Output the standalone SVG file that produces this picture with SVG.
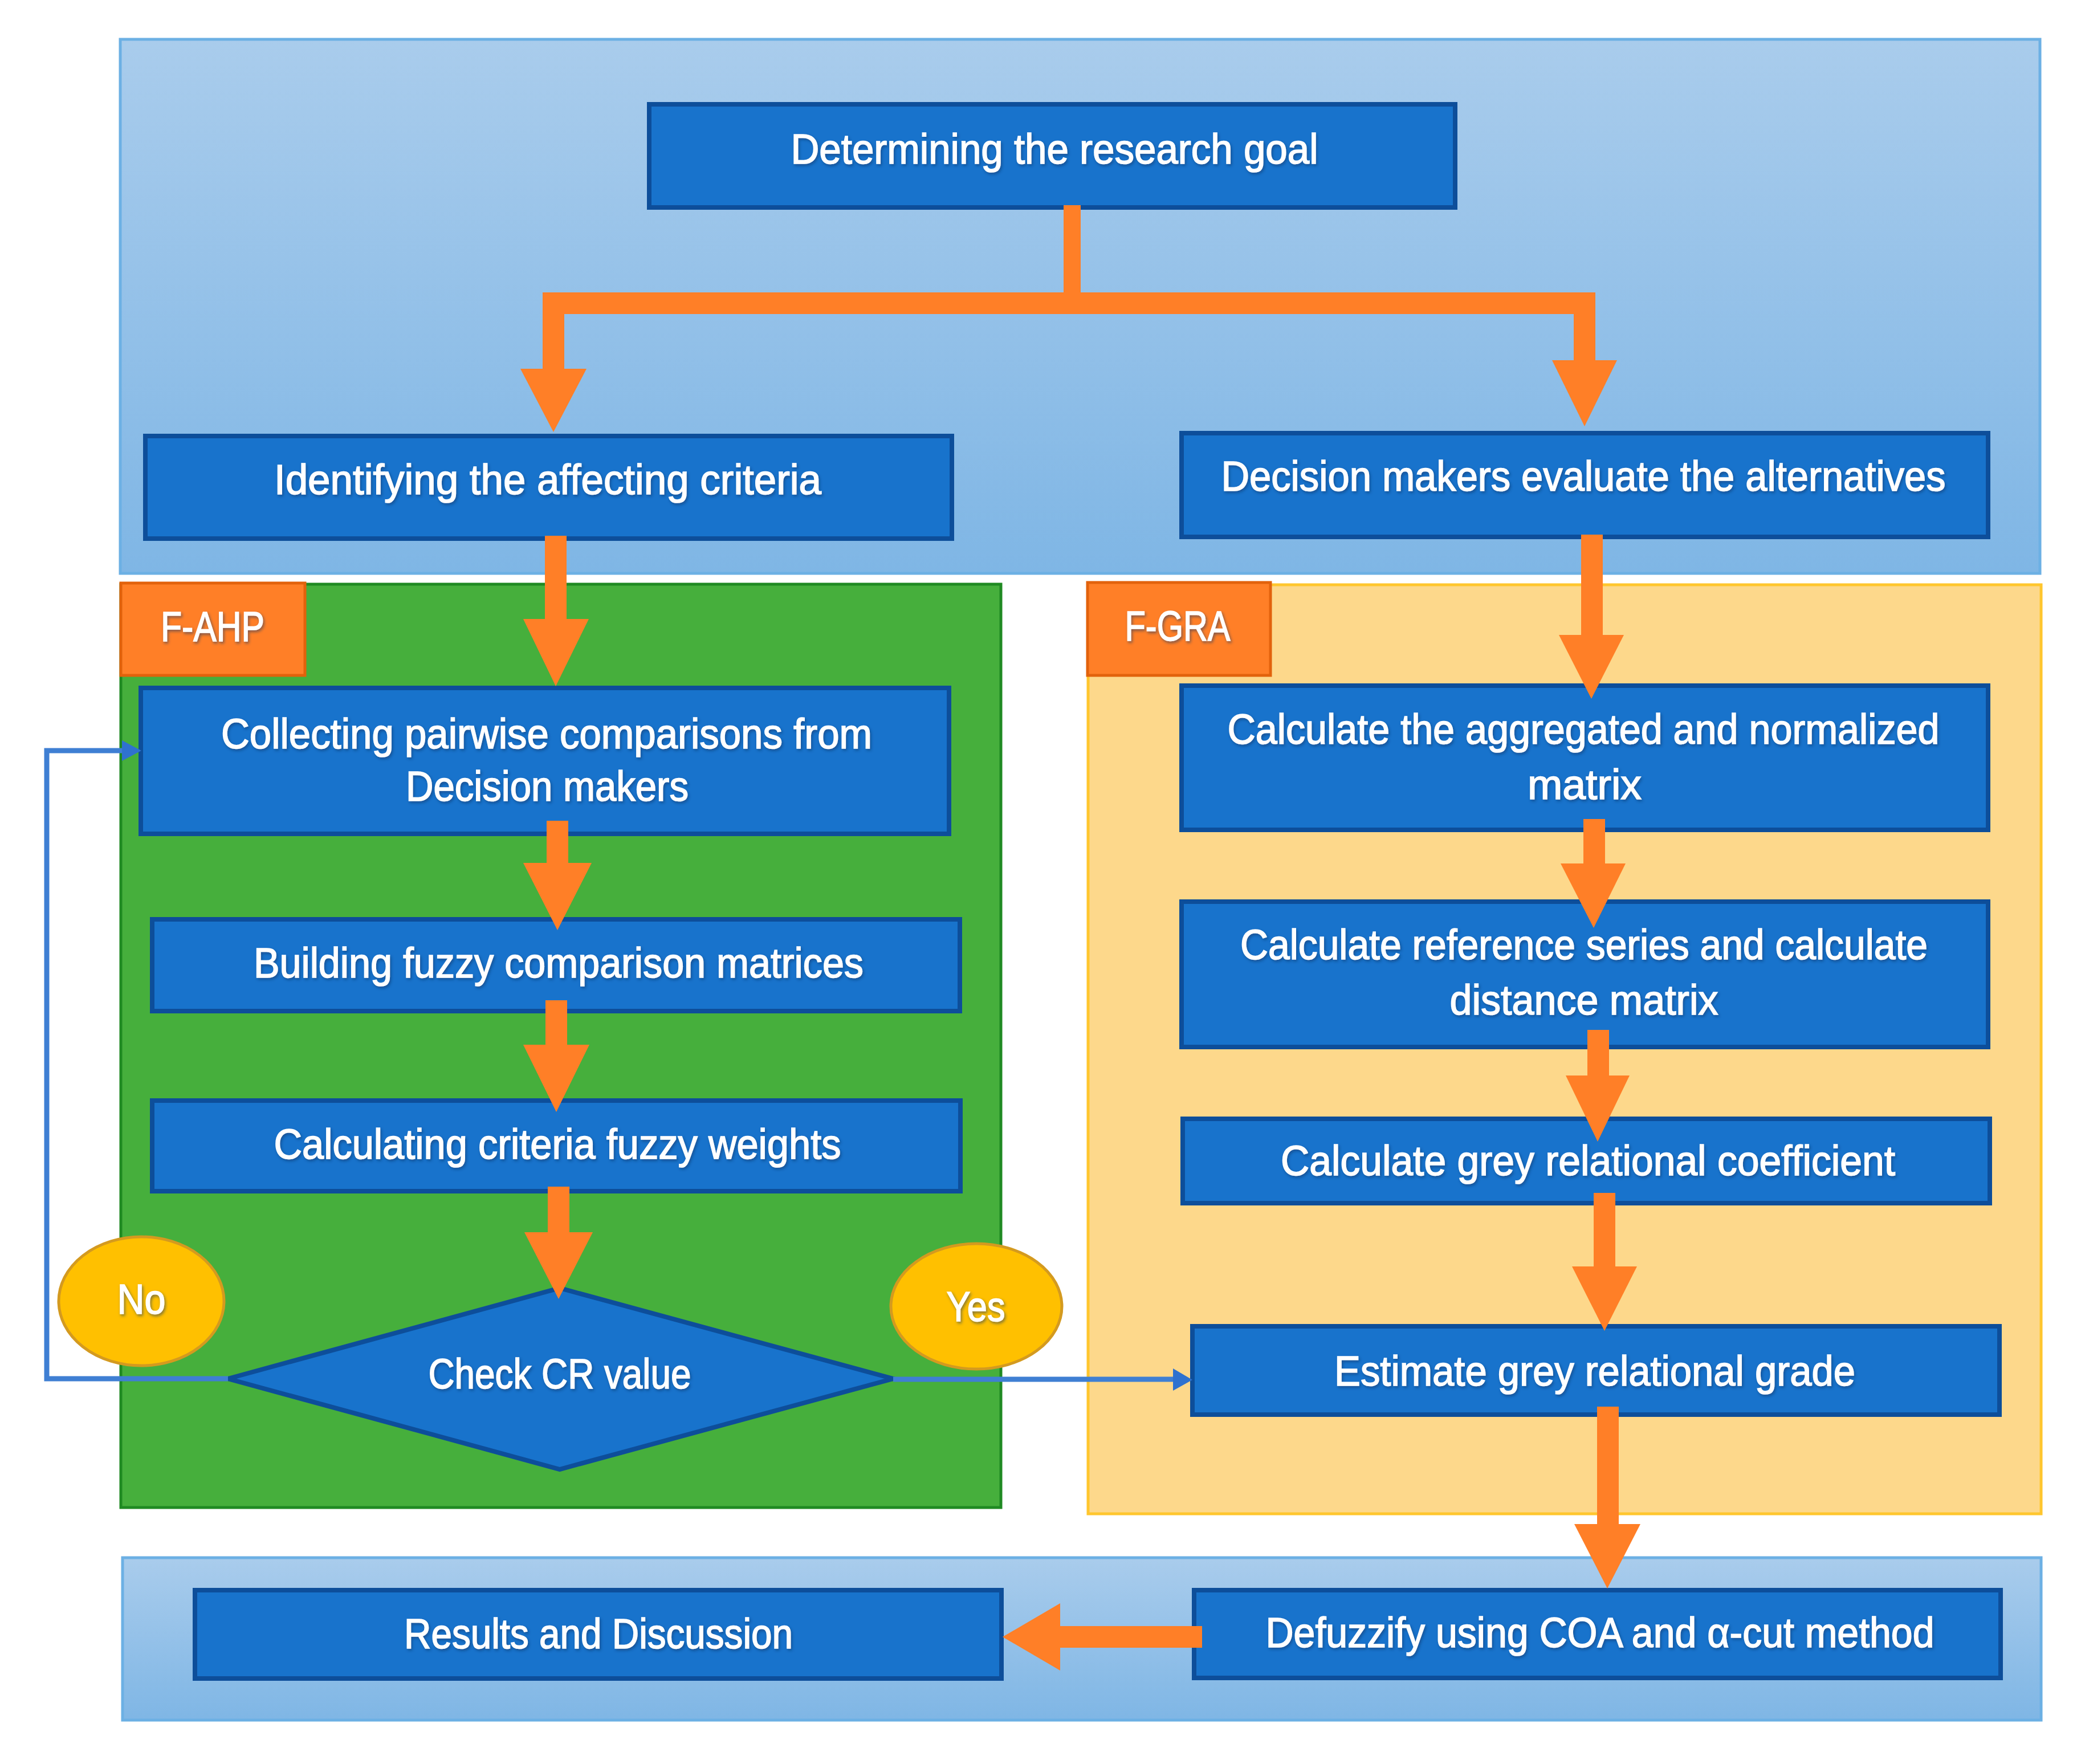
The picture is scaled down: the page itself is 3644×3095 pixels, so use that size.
<svg xmlns="http://www.w3.org/2000/svg" width="3644" height="3095" viewBox="0 0 3644 3095">
<defs>
<linearGradient id="gBlue" x1="0" y1="0" x2="0" y2="1">
<stop offset="0" stop-color="#A9CCEC"/>
<stop offset="1" stop-color="#7FB6E5"/>
</linearGradient>
<filter id="ts" x="-5%" y="-30%" width="110%" height="160%">
<feDropShadow dx="2" dy="3" stdDeviation="2.5" flood-color="#0A3566" flood-opacity="0.55"/>
</filter>
</defs>
<style>
.panel{fill:url(#gBlue);stroke:#6CB0E4;stroke-width:5}
.green{fill:#46AF3C;stroke:#1F8A22;stroke-width:5}
.yellow{fill:#FDD88B;stroke:#FFC62E;stroke-width:5}
.tag{fill:#FF7F27;stroke:#E2620C;stroke-width:5}
.box{fill:#1873CC;stroke:#0D4E9A;stroke-width:8}
.oval{fill:#FFC000;stroke:#D49A1F;stroke-width:5}
.t{font-family:'Liberation Sans Narrow','Liberation Sans',Arial,sans-serif;font-size:74px;fill:#FFFFFF;stroke:#FFFFFF;stroke-width:1.6;text-anchor:middle;filter:url(#ts)}
.sh{fill:none;stroke:#FF7F27;stroke-width:38;stroke-linejoin:miter}
.hd{fill:#FF7F27}
.bl{fill:none;stroke:#3F7FD3;stroke-width:9}
.bh{fill:#2F72CF}
</style>
<g id="panel-top"><rect class="panel" x="211" y="69" width="3368" height="937"/></g>
<g id="panel-bottom"><rect class="panel" x="215" y="2733" width="3366" height="285"/></g>
<g id="panel-fahp"><rect class="green" x="212" y="1025" width="1544" height="1620"/></g>
<g id="panel-fgra"><rect class="yellow" x="1909" y="1026" width="1672" height="1630"/></g>
<g id="tag-fahp"><rect class="tag" x="212" y="1023" width="323" height="162"/><text class="t" x="373" y="1125" textLength="182" lengthAdjust="spacingAndGlyphs">F-AHP</text></g>
<g id="tag-fgra"><rect class="tag" x="1908" y="1022" width="321" height="163"/><text class="t" x="2066" y="1124" textLength="185" lengthAdjust="spacingAndGlyphs">F-GRA</text></g>
<g id="goal"><rect class="box" x="1139" y="183" width="1414" height="181"/><text class="t" x="1850" y="287" textLength="925" lengthAdjust="spacingAndGlyphs">Determining the research goal</text></g>
<g id="identify"><rect class="box" x="255" y="765" width="1415" height="180"/><text class="t" x="961" y="867" textLength="960" lengthAdjust="spacingAndGlyphs">Identifying the affecting criteria</text></g>
<g id="evaluate"><rect class="box" x="2073" y="760" width="1415" height="182"/><text class="t" x="2778" y="861" textLength="1271" lengthAdjust="spacingAndGlyphs">Decision makers evaluate the alternatives</text></g>
<g id="collect"><rect class="box" x="247" y="1207" width="1418" height="256"/><text class="t" x="959" y="1313" textLength="1142" lengthAdjust="spacingAndGlyphs">Collecting pairwise comparisons from</text><text class="t" x="960" y="1405" textLength="496" lengthAdjust="spacingAndGlyphs">Decision makers</text></g>
<g id="build"><rect class="box" x="267" y="1613" width="1417" height="161"/><text class="t" x="980" y="1715" textLength="1070" lengthAdjust="spacingAndGlyphs">Building fuzzy comparison matrices</text></g>
<g id="weights"><rect class="box" x="267" y="1931" width="1418" height="159"/><text class="t" x="978" y="2033" textLength="995" lengthAdjust="spacingAndGlyphs">Calculating criteria fuzzy weights</text></g>
<g id="check"><polygon class="box" points="400,2419 982,2260 1567,2419 982,2578"/><text class="t" x="982" y="2436" textLength="461" lengthAdjust="spacingAndGlyphs">Check CR value</text></g>
<g id="no"><ellipse class="oval" cx="248" cy="2283" rx="145" ry="113"/><text class="t" x="248" y="2305" textLength="85" lengthAdjust="spacingAndGlyphs">No</text></g>
<g id="yes"><ellipse class="oval" cx="1713" cy="2292" rx="150" ry="110"/><text class="t" x="1712" y="2318" textLength="103" lengthAdjust="spacingAndGlyphs">Yes</text></g>
<g id="aggregate"><rect class="box" x="2073" y="1203" width="1415" height="253"/><text class="t" x="2778" y="1305" textLength="1249" lengthAdjust="spacingAndGlyphs">Calculate the aggregated and normalized</text><text class="t" x="2780" y="1402" textLength="200" lengthAdjust="spacingAndGlyphs">matrix</text></g>
<g id="reference"><rect class="box" x="2073" y="1582" width="1415" height="255"/><text class="t" x="2779" y="1683" textLength="1206" lengthAdjust="spacingAndGlyphs">Calculate reference series and calculate</text><text class="t" x="2779" y="1780" textLength="471" lengthAdjust="spacingAndGlyphs">distance matrix</text></g>
<g id="coefficient"><rect class="box" x="2075" y="1963" width="1416" height="148"/><text class="t" x="2786" y="2062" textLength="1078" lengthAdjust="spacingAndGlyphs">Calculate grey relational coefficient</text></g>
<g id="grade"><rect class="box" x="2092" y="2327" width="1416" height="155"/><text class="t" x="2798" y="2431" textLength="914" lengthAdjust="spacingAndGlyphs">Estimate grey relational grade</text></g>
<g id="defuzzify"><rect class="box" x="2095" y="2790" width="1415" height="154"/><text class="t" x="2807" y="2890" textLength="1173" lengthAdjust="spacingAndGlyphs">Defuzzify using COA and α-cut method</text></g>
<g id="results"><rect class="box" x="342" y="2790" width="1415" height="155"/><text class="t" x="1050" y="2892" textLength="682" lengthAdjust="spacingAndGlyphs">Results and Discussion</text></g>
<g id="connectors">
<path class="sh" d="M1881,360 V532" style="stroke-width:30"/>
<path class="sh" d="M971,650 V532 H2780 V635"/>
<polygon class="hd" points="913,647 1029,647 971,758"/>
<polygon class="hd" points="2723,632 2837,632 2780,748"/>
<path class="sh" d="M975,940 V1090"/>
<polygon class="hd" points="918,1086 1033,1086 975,1204"/>
<path class="sh" d="M978,1440 V1518"/>
<polygon class="hd" points="918,1514 1038,1514 978,1632"/>
<path class="sh" d="M976,1755 V1837"/>
<polygon class="hd" points="918,1833 1034,1833 976,1951"/>
<path class="sh" d="M980,2082 V2166"/>
<polygon class="hd" points="920,2162 1040,2162 980,2279"/>
<path class="sh" d="M2793,938 V1118"/>
<polygon class="hd" points="2735,1114 2849,1114 2792,1226"/>
<path class="sh" d="M2797,1437 V1519"/>
<polygon class="hd" points="2738,1515 2852,1515 2796,1628"/>
<path class="sh" d="M2804,1807 V1891"/>
<polygon class="hd" points="2747,1887 2859,1887 2803,2003"/>
<path class="sh" d="M2815,2093 V2226"/>
<polygon class="hd" points="2758,2222 2872,2222 2815,2335"/>
<path class="sh" d="M2821,2468 V2678"/>
<polygon class="hd" points="2762,2674 2878,2674 2820,2787"/>
<path class="sh" d="M2109,2872 H1856"/>
<polygon class="hd" points="1860,2813 1860,2931 1759,2872"/>
<path class="bl" d="M400,2419 H82 V1317 H218"/>
<polygon class="bh" points="214,1299 214,1335 248,1317"/>
<path class="bl" d="M1567,2420 H2062"/>
<polygon class="bh" points="2058,2401 2058,2440 2092,2421"/>
</g>
</svg>
